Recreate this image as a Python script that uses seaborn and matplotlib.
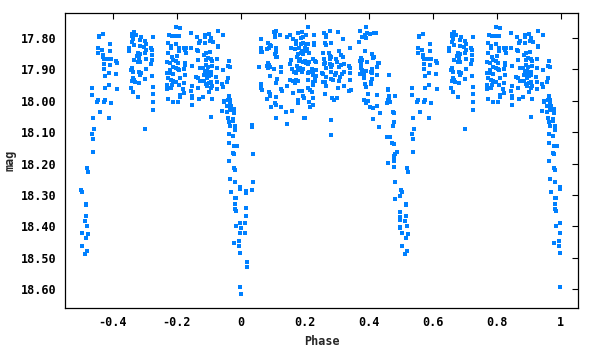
import numpy as np
import pandas as pd
import matplotlib
matplotlib.use("Agg")
import matplotlib.pyplot as plt
import seaborn as sns

# one cycle of the folded light curve, phase in [-0.5, 0.5)
# (points with phase < 0 are drawn a second time at phase + 1)

# dip near -0.5 and the first bright hump
phase_a = [-0.430, -0.443, -0.443, -0.408, -0.446, -0.433, -0.408, -0.446, -0.430, -0.430,
           -0.427, -0.421, -0.408, -0.405, -0.390, -0.387, -0.427, -0.408, -0.427, -0.412,
           -0.390, -0.424, -0.412, -0.465, -0.424, -0.387, -0.465, -0.446, -0.449, -0.424,
           -0.427, -0.405, -0.440, -0.462, -0.412, -0.458, -0.465, -0.462, -0.462, -0.480,
           -0.477, -0.499, -0.496, -0.483, -0.483, -0.483, -0.487, -0.480, -0.496, -0.477,
           -0.483, -0.496, -0.480, -0.487]
mag_a = [17.787, 17.793, 17.797, 17.819, 17.832, 17.838, 17.841, 17.848, 17.854, 17.859,
         17.867, 17.867, 17.867, 17.867, 17.873, 17.880, 17.883, 17.886, 17.899, 17.911,
         17.915, 17.921, 17.950, 17.959, 17.959, 17.962, 17.982, 17.997, 18.004, 17.997,
         18.004, 18.007, 18.036, 18.055, 18.055, 18.090, 18.106, 18.120, 18.163, 18.214,
         18.227, 18.284, 18.290, 18.329, 18.332, 18.367, 18.383, 18.399, 18.421, 18.424,
         18.437, 18.462, 18.478, 18.488]

phase_b = [-0.333, -0.340, -0.340, -0.327, -0.312, -0.337, -0.340, -0.333, -0.315, -0.315,
           -0.349, -0.349, -0.321, -0.315, -0.324, -0.318, -0.321, -0.315, -0.333, -0.340,
           -0.343, -0.337, -0.318, -0.312, -0.315, -0.337, -0.333, -0.340, -0.330, -0.318,
           -0.343, -0.337, -0.321, -0.296, -0.299,
           -0.299, -0.296, -0.302, -0.296, -0.299, -0.280, -0.277, -0.277, -0.277, -0.280,
           -0.296, -0.274, -0.277, -0.274, -0.274, -0.274, -0.274, -0.299,
           -0.224, -0.215, -0.227, -0.218, -0.218, -0.227, -0.215, -0.212, -0.230, -0.221,
           -0.212, -0.221, -0.230, -0.224, -0.212, -0.227, -0.218, -0.212, -0.230, -0.215,
           -0.218, -0.230, -0.227, -0.212]
mag_b = [17.781, 17.787, 17.794, 17.790, 17.797, 17.803, 17.813, 17.822, 17.806, 17.825,
         17.832, 17.841, 17.848, 17.851, 17.857, 17.864, 17.876, 17.876, 17.870, 17.896,
         17.902, 17.908, 17.908, 17.911, 17.918, 17.927, 17.934, 17.937, 17.940, 17.943,
         17.959, 17.972, 17.988, 17.899, 17.931,
         17.810, 17.819, 17.829, 17.838, 17.848, 17.832, 17.838, 17.854, 17.870, 17.883,
         17.867, 17.797, 17.921, 17.956, 17.978, 18.004, 18.029, 18.090,
         17.790, 17.794, 17.816, 17.825, 17.832, 17.848, 17.861, 17.870, 17.876, 17.880,
         17.892, 17.902, 17.911, 17.911, 17.915, 17.927, 17.934, 17.937, 17.950, 17.950,
         17.959, 17.962, 17.994, 18.004]

phase_c = [-0.202, -0.190, -0.071, -0.155, -0.193, -0.205, -0.137, -0.112, -0.099, -0.093,
           -0.112, -0.127, -0.130, -0.112, -0.096, -0.087, -0.071, -0.071, -0.202, -0.193,
           -0.193, -0.177, -0.171, -0.174, -0.155, -0.137, -0.133, -0.171, -0.096, -0.109,
           -0.115, -0.199, -0.074, -0.133, -0.202, -0.196, -0.109, -0.102, -0.093, -0.090,
           -0.174, -0.174, -0.152, -0.109, -0.102, -0.090, -0.202, -0.196, -0.193, -0.177,
           -0.127, -0.118, -0.074, -0.112, -0.105, -0.099, -0.093, -0.115, -0.109, -0.099,
           -0.093, -0.174, -0.190, -0.140, -0.133, -0.105, -0.077, -0.127, -0.115, -0.109,
           -0.099, -0.093, -0.202, -0.193, -0.177, -0.074, -0.152, -0.133, -0.105, -0.093,
           -0.090, -0.074, -0.180, -0.155, -0.177, -0.099, -0.190, -0.190, -0.152, -0.152,
           -0.130, -0.118, -0.090, -0.196, -0.152, -0.093]
mag_c = [17.765, 17.768, 17.778, 17.784, 17.794, 17.794, 17.797, 17.790, 17.787, 17.800,
         17.797, 17.810, 17.816, 17.816, 17.810, 17.813, 17.825, 17.829, 17.819, 17.832,
         17.841, 17.832, 17.832, 17.838, 17.832, 17.838, 17.841, 17.848, 17.845, 17.848,
         17.854, 17.857, 17.867, 17.870, 17.873, 17.880, 17.870, 17.864, 17.867, 17.873,
         17.880, 17.886, 17.889, 17.886, 17.892, 17.889, 17.896, 17.899, 17.902, 17.899,
         17.896, 17.896, 17.896, 17.908, 17.905, 17.911, 17.908, 17.918, 17.918, 17.921,
         17.918, 17.918, 17.927, 17.924, 17.927, 17.927, 17.924, 17.937, 17.937, 17.946,
         17.943, 17.940, 17.940, 17.950, 17.943, 17.940, 17.953, 17.959, 17.953, 17.959,
         17.953, 17.962, 17.962, 17.969, 17.975, 17.972, 17.982, 17.988, 17.985, 17.991,
         17.994, 17.988, 17.994, 18.004, 18.013, 18.052]

# primary eclipse around phase 0
phase_d = [-0.055, -0.037, -0.040, -0.033, -0.055, -0.040, -0.043, -0.058, -0.055, -0.037,
           -0.052, -0.052, -0.040, -0.033, -0.043, -0.033, -0.030, -0.058, -0.043, -0.033,
           -0.021, -0.030, -0.021, -0.040, -0.024, -0.024, -0.037, -0.033, -0.018, -0.018,
           0.035, 0.035, -0.037, -0.024, -0.037, -0.021, -0.012, -0.024, -0.021, 0.038,
           -0.037, -0.021, -0.018, -0.033, -0.018, 0.038, -0.002, -0.002, 0.017, 0.017,
           0.035, -0.030, -0.018, -0.015, -0.018, -0.018, -0.015, 0.017, 0.017, -0.002,
           0.013, -0.015, 0.001, -0.001, 0.013, -0.021, -0.005, -0.005, -0.001, 0.020,
           0.020, -0.001, 0.001]
mag_d = [17.790, 17.873, 17.889, 17.892, 17.902, 17.927, 17.940, 17.946, 17.956, 17.985,
         18.001, 18.004, 17.997, 17.997, 18.017, 18.010, 18.017, 18.032, 18.036, 18.026,
         18.026, 18.029, 18.039, 18.055, 18.058, 18.064, 18.068, 18.080, 18.080, 18.093,
         18.077, 18.083, 18.106, 18.112, 18.134, 18.144, 18.144, 18.166, 18.169, 18.169,
         18.192, 18.214, 18.220, 18.249, 18.259, 18.259, 18.275, 18.281, 18.287, 18.294,
         18.284, 18.290, 18.310, 18.310, 18.329, 18.345, 18.351, 18.341, 18.367, 18.389,
         18.389, 18.399, 18.405, 18.421, 18.421, 18.453, 18.446, 18.462, 18.485, 18.513,
         18.529, 18.593, 18.615]

phase_e = [0.110, 0.104, 0.107, 0.123, 0.107, 0.063, 0.145, 0.154, 0.163, 0.173,
           0.179, 0.192, 0.195, 0.188, 0.085, 0.092, 0.088, 0.095, 0.082, 0.063,
           0.063, 0.067, 0.110, 0.110, 0.107, 0.110, 0.113, 0.157, 0.173, 0.188,
           0.195, 0.170, 0.182, 0.192, 0.179, 0.188, 0.176, 0.185, 0.195, 0.182,
           0.195, 0.157, 0.154, 0.085, 0.088, 0.082, 0.092, 0.085, 0.057, 0.104,
           0.126, 0.126, 0.160, 0.167, 0.173, 0.179, 0.185, 0.195, 0.192, 0.176,
           0.092, 0.113, 0.110, 0.154, 0.163, 0.173, 0.179, 0.170, 0.145, 0.063,
           0.067, 0.126, 0.129, 0.088, 0.092, 0.092, 0.163, 0.182, 0.192, 0.195,
           0.198, 0.082, 0.110, 0.179, 0.179, 0.107, 0.110, 0.095, 0.126, 0.160,
           0.142, 0.110, 0.198, 0.145, 0.063]
mag_e = [17.778, 17.781, 17.784, 17.790, 17.797, 17.803, 17.797, 17.790, 17.803, 17.810,
         17.784, 17.781, 17.797, 17.800, 17.816, 17.822, 17.832, 17.825, 17.835, 17.832,
         17.845, 17.845, 17.832, 17.845, 17.851, 17.861, 17.861, 17.832, 17.819, 17.819,
         17.816, 17.835, 17.832, 17.841, 17.851, 17.848, 17.861, 17.867, 17.851, 17.873,
         17.876, 17.870, 17.883, 17.880, 17.886, 17.889, 17.892, 17.896, 17.892, 17.899,
         17.892, 17.908, 17.899, 17.908, 17.911, 17.902, 17.896, 17.899, 17.908, 17.889,
         17.921, 17.931, 17.943, 17.934, 17.937, 17.934, 17.937, 17.943, 17.953, 17.946,
         17.966, 17.962, 17.969, 17.972, 17.978, 17.985, 17.975, 17.969, 17.969, 17.985,
         17.991, 17.994, 17.988, 17.997, 18.007, 18.007, 18.013, 18.020, 18.020, 18.032,
         18.036, 18.055, 18.055, 18.074, 17.959]

phase_f = [0.210, 0.279, 0.304, 0.260, 0.267, 0.267, 0.204, 0.229, 0.320, 0.263,
           0.282, 0.267, 0.204, 0.210, 0.229, 0.229, 0.342, 0.201, 0.207, 0.201,
           0.213, 0.307, 0.257, 0.276, 0.279, 0.282, 0.313, 0.320, 0.226, 0.232,
           0.235, 0.260, 0.279, 0.298, 0.301, 0.201, 0.204, 0.210, 0.213, 0.323,
           0.260, 0.263, 0.279, 0.285, 0.282, 0.267, 0.313, 0.307, 0.338, 0.342,
           0.223, 0.229, 0.235, 0.226, 0.213, 0.210, 0.254, 0.257, 0.282, 0.298,
           0.295, 0.323, 0.317, 0.310, 0.342, 0.226, 0.235, 0.232, 0.267, 0.282,
           0.288, 0.307, 0.210, 0.226, 0.232, 0.257, 0.263, 0.342, 0.267, 0.226,
           0.323, 0.304, 0.210, 0.217, 0.223, 0.345, 0.338, 0.263, 0.285, 0.292,
           0.301, 0.226, 0.213, 0.226, 0.217, 0.201, 0.282, 0.282]
mag_f = [17.765, 17.778, 17.781, 17.784, 17.790, 17.797, 17.790, 17.790, 17.803, 17.816,
         17.816, 17.822, 17.819, 17.819, 17.816, 17.822, 17.832, 17.832, 17.835, 17.841,
         17.848, 17.841, 17.848, 17.848, 17.857, 17.861, 17.854, 17.861, 17.867, 17.873,
         17.876, 17.867, 17.867, 17.867, 17.876, 17.873, 17.880, 17.883, 17.876, 17.883,
         17.883, 17.880, 17.883, 17.886, 17.892, 17.896, 17.886, 17.892, 17.889, 17.896,
         17.899, 17.902, 17.902, 17.908, 17.908, 17.911, 17.911, 17.915, 17.908, 17.911,
         17.918, 17.908, 17.915, 17.924, 17.911, 17.918, 17.921, 17.927, 17.924, 17.931,
         17.934, 17.937, 17.934, 17.940, 17.937, 17.940, 17.940, 17.934, 17.953, 17.950,
         17.953, 17.959, 17.959, 17.966, 17.972, 17.966, 17.969, 17.978, 17.991, 17.997,
         17.991, 17.991, 18.004, 18.013, 18.020, 18.055, 18.061, 18.109]

# last hump and the descent into the secondary eclipse near 0.5
phase_g = [0.392, 0.373, 0.395, 0.388, 0.404, 0.417, 0.423, 0.379, 0.392, 0.370,
           0.388, 0.410, 0.417, 0.413, 0.376, 0.379, 0.373, 0.395, 0.376, 0.429,
           0.432, 0.426, 0.376, 0.379, 0.392, 0.385, 0.373, 0.410, 0.407, 0.410,
           0.426, 0.463, 0.385, 0.385, 0.410, 0.407, 0.407, 0.388, 0.392, 0.460,
           0.460, 0.398, 0.426, 0.463, 0.482, 0.463, 0.460, 0.467, 0.457, 0.385,
           0.398, 0.392, 0.404, 0.413, 0.426, 0.476, 0.479, 0.435, 0.413, 0.479,
           0.476, 0.432, 0.457, 0.467, 0.473, 0.479, 0.488, 0.482, 0.479, 0.479,
           0.479, 0.460, 0.479, 0.482, 0.499, 0.482, 0.499, 0.498, 0.499, 0.498,
           0.499]
mag_g = [17.765, 17.778, 17.784, 17.790, 17.787, 17.784, 17.784, 17.797, 17.800, 17.813,
         17.841, 17.851, 17.861, 17.864, 17.864, 17.870, 17.873, 17.876, 17.883, 17.880,
         17.880, 17.892, 17.896, 17.902, 17.905, 17.911, 17.915, 17.899, 17.908, 17.911,
         17.918, 17.918, 17.924, 17.927, 17.931, 17.940, 17.946, 17.946, 17.956, 17.962,
         17.966, 17.978, 17.982, 17.985, 17.985, 17.994, 17.997, 18.004, 18.007, 17.997,
         18.001, 18.007, 18.020, 18.023, 18.017, 18.036, 18.039, 18.039, 18.058, 18.068,
         18.080, 18.083, 18.115, 18.115, 18.134, 18.138, 18.163, 18.169, 18.176, 18.185,
         18.192, 18.198, 18.211, 18.259, 18.303, 18.313, 18.354, 18.370, 18.380, 18.402,
         18.405]

x_ticks = [-0.4, -0.2, 0, 0.2, 0.4, 0.6, 0.8, 1]
x_labels = ["-0.4", "-0.2", "0", "0.2", "0.4", "0.6", "0.8", "1"]
y_ticks = [17.8, 17.9, 18.0, 18.1, 18.2, 18.3, 18.4, 18.5, 18.6]

#%% build the folded table
phase = np.array(phase_a + phase_b + phase_c + phase_d + phase_e + phase_f + phase_g)
mag = np.array(mag_a + mag_b + mag_c + mag_d + mag_e + mag_f + mag_g)
neg = phase < 0
df = pd.DataFrame({'Phase': np.concatenate([phase, phase[neg] + 1]),
                   'mag': np.concatenate([mag, mag[neg]])})

#%% plot
sns.set_style("white")
plt.rcParams['font.family'] = ['DejaVu Sans Mono', 'DejaVu Sans']

fig = plt.figure(figsize=(6, 3.5), dpi=100)
ax = fig.add_axes([65/600, 1-308/350, (578-65)/600, (308-13)/350])

sns.scatterplot(data=df, x='Phase', y='mag', ax=ax, marker='s', s=8,
                color='#0080ff', linewidth=0, legend=False)

ax.set_xlim(-0.549, 1.054)
ax.set_ylim(18.66, 17.72)
ax.set_xticks(x_ticks)
ax.set_xticklabels(x_labels)
ax.set_yticks(y_ticks)
ax.set_yticklabels(['{:.2f}'.format(v) for v in y_ticks])

fs = 8.5
ax.tick_params(direction='in', length=4, width=0.8, top=True, right=True,
               labelsize=fs, pad=6, colors='black')
for lab in ax.get_xticklabels() + ax.get_yticklabels():
    lab.set_fontweight('bold')
for sp in ax.spines.values():
    sp.set_color('black')
    sp.set_linewidth(0.9)

ax.set_xlabel('Phase', fontsize=fs, fontweight='bold', labelpad=4)
ax.set_ylabel('mag', fontsize=fs, fontweight='bold', labelpad=3)

fig.savefig('out.png', dpi=100)
